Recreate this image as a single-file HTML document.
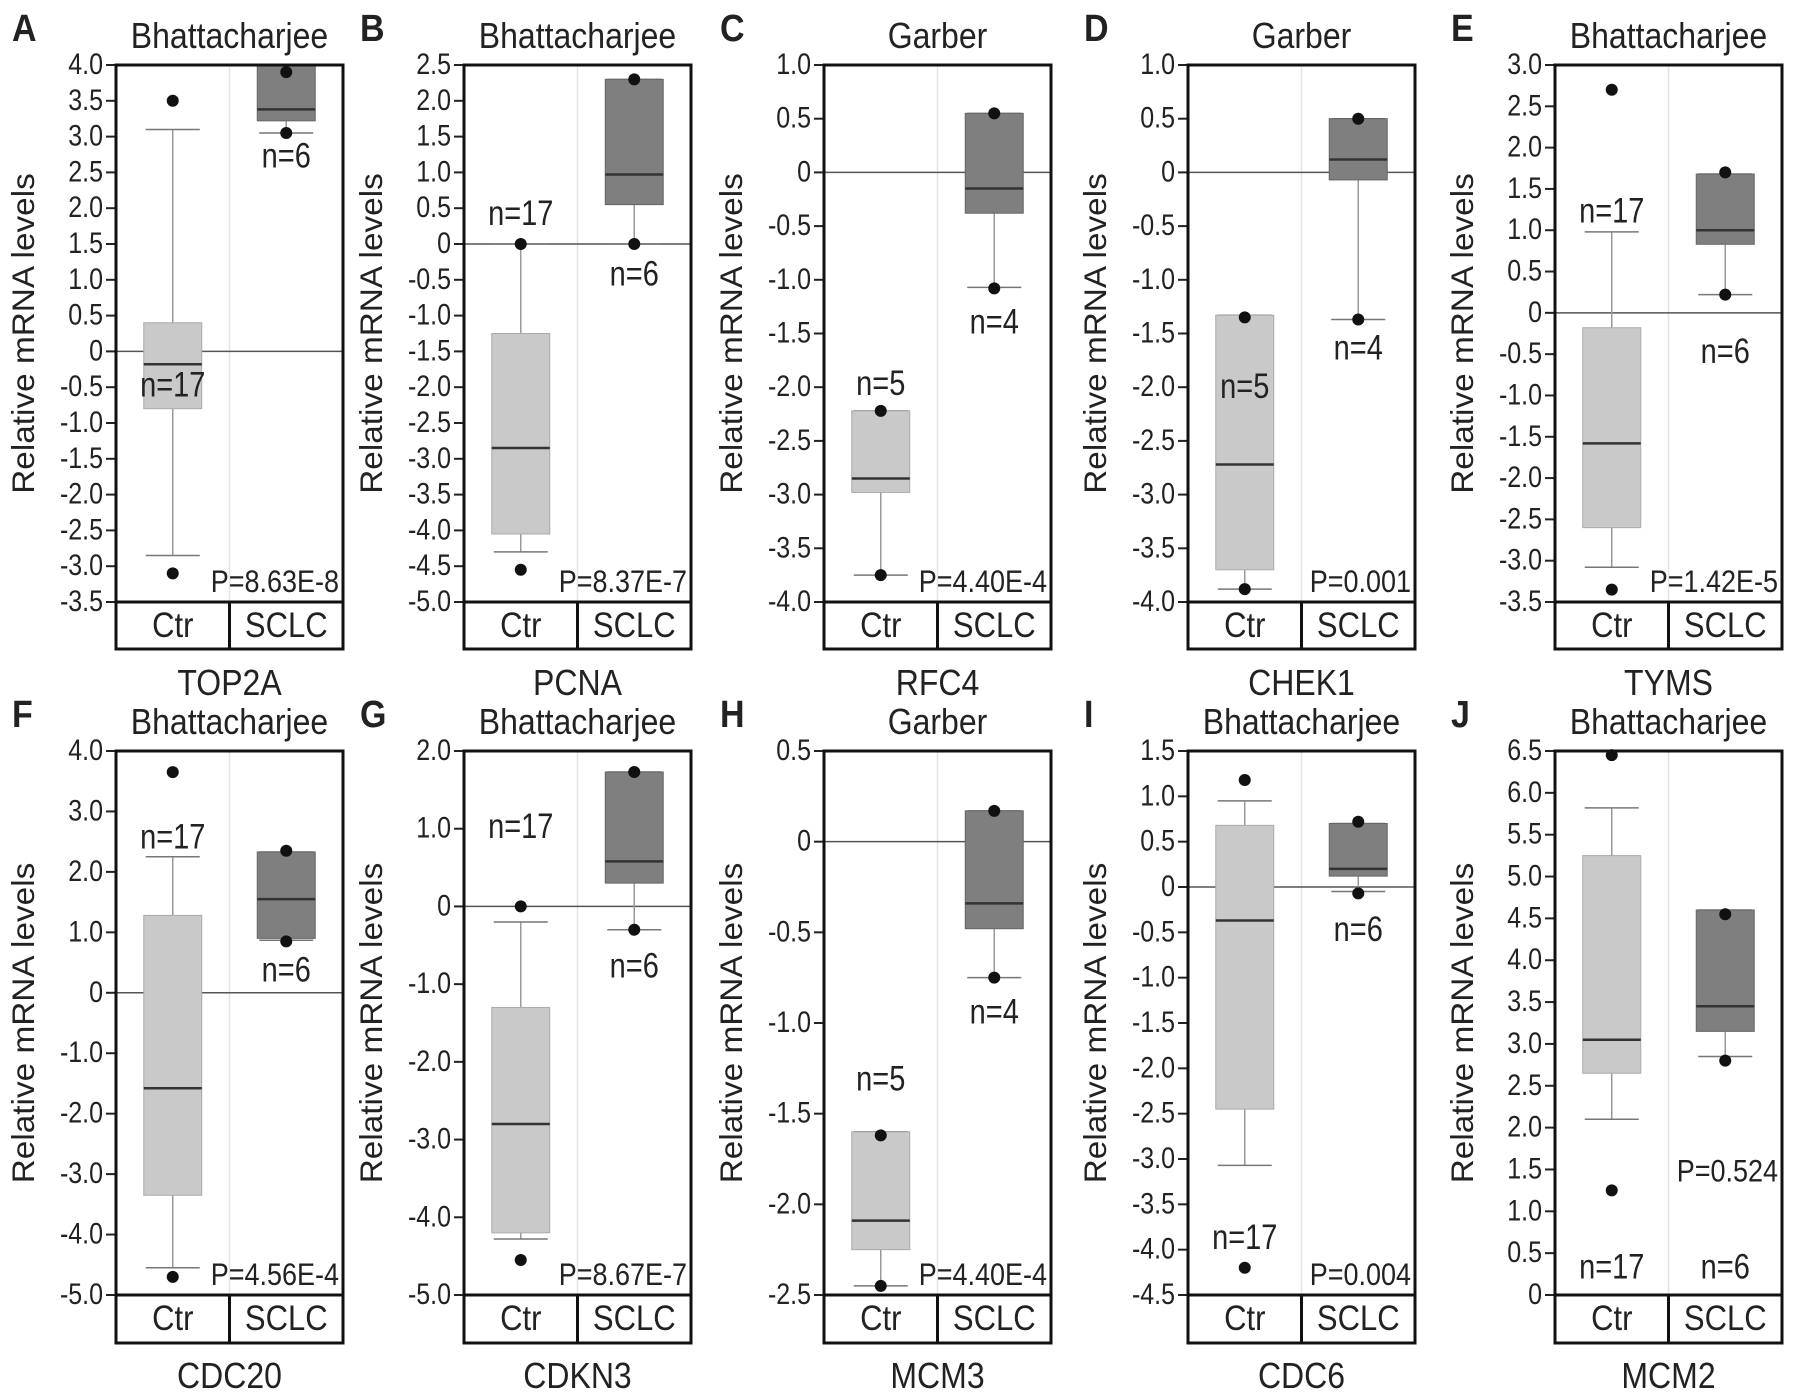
<!DOCTYPE html>
<html><head><meta charset="utf-8"><style>
html,body{margin:0;padding:0;background:#fff}
svg{display:block;font-family:"Liberation Sans",Arial,sans-serif}
</style></head><body>
<svg id="fig" width="1795" height="1400" viewBox="0 0 1795 1400"></svg>
<script>
const panelLetters=["A","B","C","D","E","F","G","H","I","J"];
const panelTitles=["Bhattacharjee","Bhattacharjee","Garber","Garber","Bhattacharjee","Bhattacharjee","Bhattacharjee","Garber","Bhattacharjee","Bhattacharjee"];
const geneNames=["TOP2A","PCNA","RFC4","CHEK1","TYMS","CDC20","CDKN3","MCM3","CDC6","MCM2"];
const pValues=["P=8.63E-8","P=8.37E-7","P=4.40E-4","P=0.001","P=1.42E-5","P=4.56E-4","P=8.67E-7","P=4.40E-4","P=0.004","P=0.524"];
const yMin=[-3.5,-5,-4,-4,-3.5,-5,-5,-2.5,-4.5,0];
const yMax=[4,2.5,1,1,3,4,2,0.5,1.5,6.5];
const yStep=[0.5,0.5,0.5,0.5,0.5,1,1,0.5,0.5,0.5];
// Ctr boxes: [low whisker, q1, median, q3, high whisker]
const ctrBox=[[-2.85,-0.8,-0.18,0.4,3.1],[-4.3,-4.05,-2.85,-1.25,0],[-3.75,-2.98,-2.85,-2.22,-2.22],[-3.88,-3.7,-2.72,-1.33,-1.33],[-3.08,-2.6,-1.58,-0.18,0.98],[-4.55,-3.35,-1.58,1.28,2.25],[-4.28,-4.2,-2.8,-1.3,-0.2],[-2.45,-2.25,-2.09,-1.6,-1.6],[-3.07,-2.45,-0.37,0.68,0.95],[2.1,2.65,3.05,5.25,5.82]];
const sclcBox=[[3.05,3.22,3.38,4.0,4.0],[0,0.55,0.97,2.3,2.3],[-1.07,-0.38,-0.15,0.55,0.55],[-1.37,-0.07,0.12,0.5,0.5],[0.22,0.83,1.0,1.68,1.68],[0.87,0.9,1.55,2.33,2.33],[-0.3,0.3,0.58,1.73,1.73],[-0.75,-0.48,-0.34,0.17,0.17],[-0.05,0.12,0.2,0.7,0.7],[2.85,3.15,3.45,4.6,4.6]];
const ctrDots=[[3.5,-3.1],[0,-4.55],[-2.22,-3.75],[-1.35,-3.88],[2.7,-3.35],[3.65,-4.7],[0,-4.55],[-1.62,-2.45],[1.18,-4.2],[6.45,1.25]];
const sclcDots=[[3.9,3.05],[2.3,0],[0.55,-1.08],[0.5,-1.37],[1.7,0.22],[2.35,0.85],[1.73,-0.3],[0.17,-0.75],[0.72,-0.07],[4.55,2.8]];
const ctrN=["n=17","n=17","n=5","n=5","n=17","n=17","n=17","n=5","n=17","n=17"];
const sclcN=["n=6","n=6","n=4","n=4","n=6","n=6","n=6","n=4","n=6","n=6"];
const ctrNPos=[-0.45,0.45,-1.95,-1.98,1.25,2.6,1.05,-1.3,-3.85,0.35];
const sclcNPos=[2.75,-0.4,-1.38,-1.62,-0.45,0.4,-0.75,-0.93,-0.45,0.35];

const NS="http://www.w3.org/2000/svg";
const svg=document.getElementById('fig');
function mk(tag,attrs,parent,text){const e=document.createElementNS(NS,tag);for(const k in attrs)e.setAttribute(k,attrs[k]);if(text!==undefined)e.textContent=text;(parent||svg).appendChild(e);return e;}
function tx(g,x,y,size,anchor,str,extra,sy){
  return mk('text',Object.assign({x:0,y:0,'font-size':size,'text-anchor':anchor,fill:'#222',transform:`translate(${x},${y}) scale(1,${sy||1.12})`},extra||{}),g,str);
}
const lefts=[116,464,824,1188,1555];
const W=227;
for(let i=0;i<10;i++){
  const L=lefts[i%5], T=i<5?65:751, H=i<5?537:544, CH=i<5?47:48, B=T+H;
  const g=mk('g',{});
  
  
  const y=v=>B-(v-yMin[i])/(yMax[i]-yMin[i])*H;
  const xc=[L+W*0.25,L+W*0.75];
  let t=tx(g,L-104,T-24,34,'start',panelLetters[i],{'font-weight':'bold'});
  
  t=tx(g,L+W/2,T-17,32,'middle',panelTitles[i]);
  
  t=mk('text',{x:0,y:0,'font-size':29,'text-anchor':'middle',fill:'#222',transform:`translate(${L-82},${(T+B)/2}) rotate(-90) scale(1.15,1.1)`},g,'Relative mRNA levels');
  
  let l=mk('line',{x1:L+W/2,x2:L+W/2,y1:T,y2:B,stroke:'#e4e4e4','stroke-width':1.5},g);
  
  if(yMin[i]<0){l=mk('line',{x1:L,x2:L+W,y1:y(0),y2:y(0),stroke:'#555','stroke-width':1.5},g);
    }
  const nT=Math.round((yMax[i]-yMin[i])/yStep[i]);
  for(let k=0;k<=nT;k++){const v=yMin[i]+k*yStep[i];
    l=mk('line',{x1:L-10,x2:L,y1:y(v),y2:y(v),stroke:'#222','stroke-width':2},g);
    
    t=tx(g,L-13,y(v)+9,25,'end',Math.abs(v)<1e-9?"0":v.toFixed(1),null,1.18);
    }
  const boxes=[ctrBox[i],sclcBox[i]],dots=[ctrDots[i],sclcDots[i]],fills=['#c9c9c9','#7f7f7f'],strokes=['#aaa','#666'];
  const ns=[ctrN[i],sclcN[i]],np=[ctrNPos[i],sclcNPos[i]];
  for(let s=0;s<2;s++){
    const b=boxes[s],cx=xc[s],bw=58;
    l=mk('line',{x1:cx,x2:cx,y1:y(b[0]),y2:y(b[4]),stroke:'#999','stroke-width':1.5},g);
    
    for(const wv of [b[0],b[4]]){l=mk('line',{x1:cx-27,x2:cx+27,y1:y(wv),y2:y(wv),stroke:'#777','stroke-width':1.5},g);
      }
    const r=mk('rect',{x:cx-bw/2,y:y(b[3]),width:bw,height:y(b[1])-y(b[3]),fill:fills[s],stroke:strokes[s],'stroke-width':1},g);
    
    l=mk('line',{x1:cx-bw/2,x2:cx+bw/2,y1:y(b[2]),y2:y(b[2]),stroke:'#333','stroke-width':2.5},g);
    
    for(const dv of dots[s]){const c=mk('ellipse',{cx:cx,cy:y(dv),rx:6,ry:6,fill:'#111'},g);
      }
    t=tx(g,cx,y(np[s])+13,29,'middle',ns[s],null,1.2);
    
  }
  const py=i===9?y(1.5)+12:B-10;
  t=tx(g,L+W-4,py,27,'end',pValues[i],null,1.15);
  
  const f=mk('rect',{x:L,y:T,width:W,height:H,fill:'none',stroke:'#111','stroke-width':3},g);
  
  const cb=mk('rect',{x:L,y:B,width:W,height:CH,fill:'none',stroke:'#111','stroke-width':3},g);
  
  l=mk('line',{x1:L+W/2,x2:L+W/2,y1:B,y2:B+CH,stroke:'#111','stroke-width':3},g);
  
  t=tx(g,xc[0],B+35,31,'middle','Ctr',null,1.15);
  
  t=tx(g,xc[1],B+35,31,'middle','SCLC',null,1.15);
  
  t=tx(g,L+W/2,B+93,32,'middle',geneNames[i]);
  
}
</script>
</body></html>
